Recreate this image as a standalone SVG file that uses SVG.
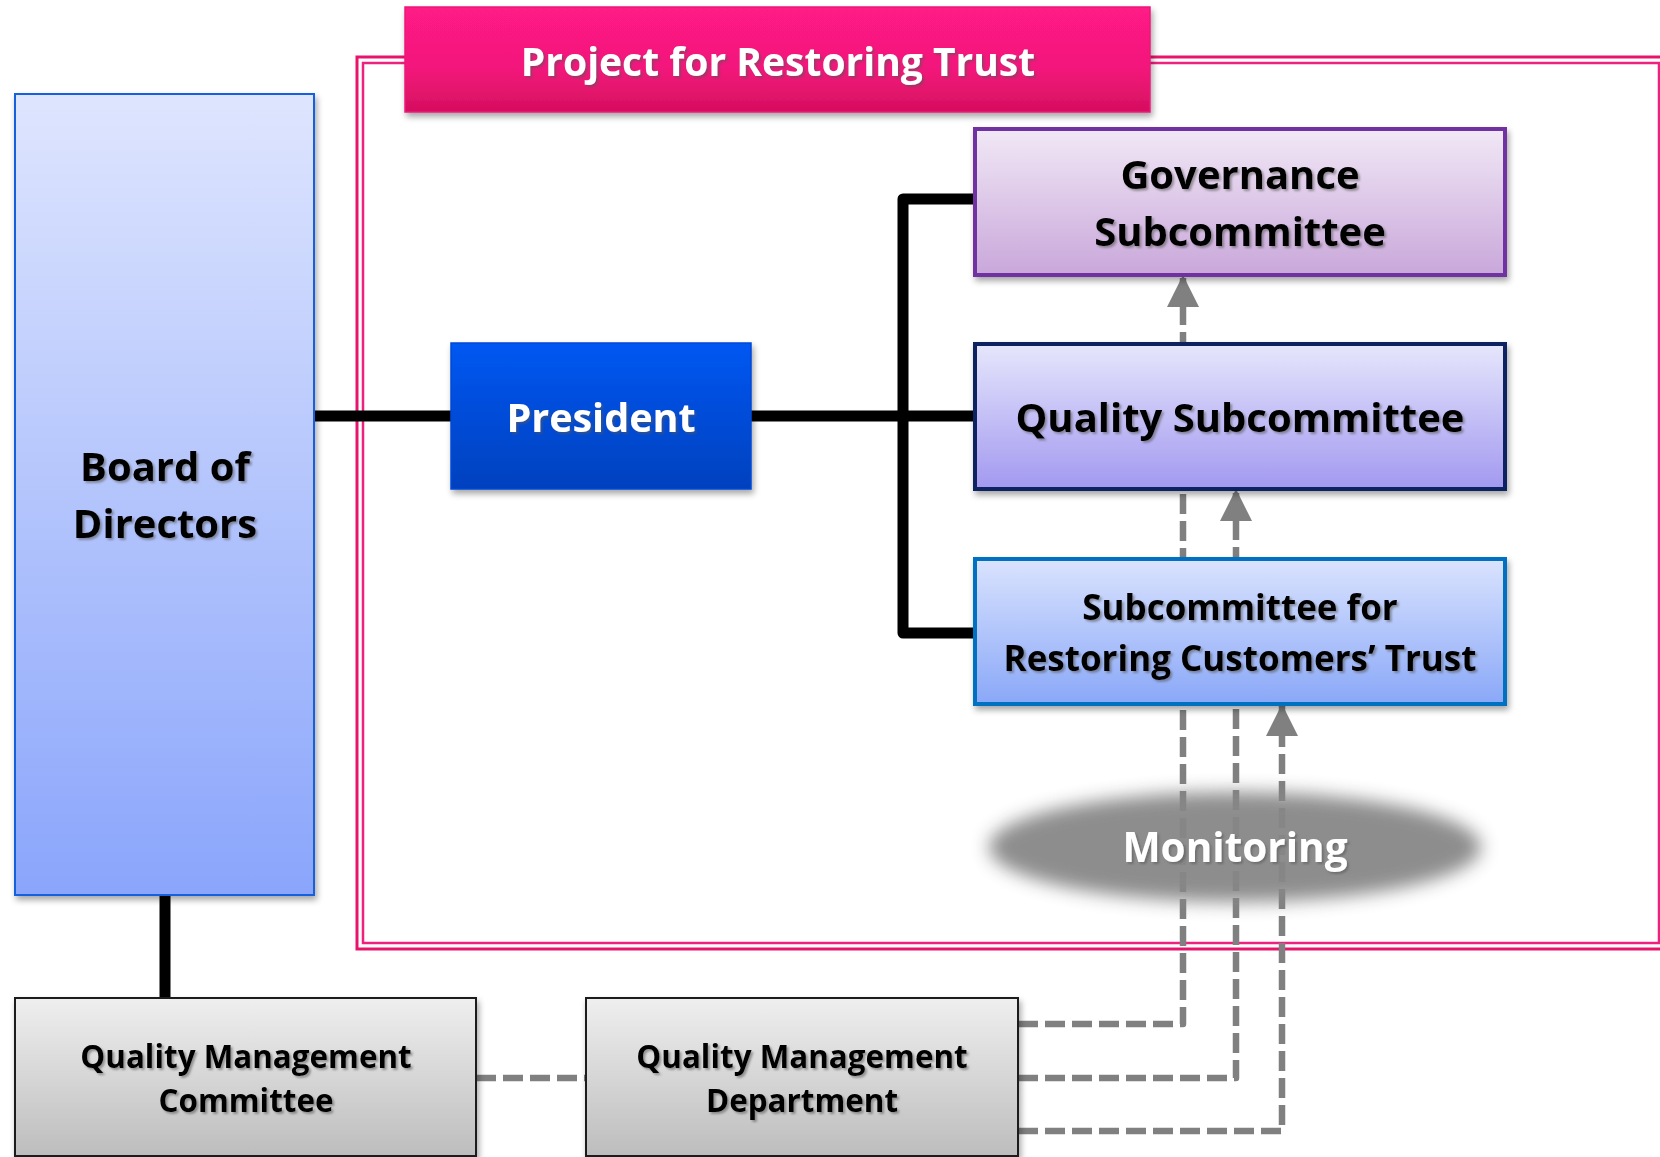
<svg xmlns="http://www.w3.org/2000/svg" width="1660" height="1157" viewBox="0 0 1660 1157">
<defs>
  <linearGradient id="gTitle" x1="0" y1="0" x2="0" y2="1"><stop offset="0" stop-color="#FF1A86"/><stop offset="0.6" stop-color="#F2187A"/><stop offset="1" stop-color="#D50F5F"/></linearGradient>
  <linearGradient id="gBoard" x1="0" y1="0" x2="0" y2="1"><stop offset="0" stop-color="#DEE5FE"/><stop offset="1" stop-color="#8AA5FB"/></linearGradient>
  <linearGradient id="gPres" x1="0" y1="0" x2="0" y2="1"><stop offset="0" stop-color="#0457F2"/><stop offset="1" stop-color="#0241BE"/></linearGradient>
  <linearGradient id="gGov" x1="0" y1="0" x2="0" y2="1"><stop offset="0" stop-color="#F1E8F6"/><stop offset="1" stop-color="#C9A7DA"/></linearGradient>
  <linearGradient id="gQS" x1="0" y1="0" x2="0" y2="1"><stop offset="0" stop-color="#E6E6FC"/><stop offset="1" stop-color="#A299F0"/></linearGradient>
  <linearGradient id="gRCT" x1="0" y1="0" x2="0" y2="1"><stop offset="0" stop-color="#DAE3FE"/><stop offset="1" stop-color="#8AA8F8"/></linearGradient>
  <linearGradient id="gGray" x1="0" y1="0" x2="0" y2="1"><stop offset="0" stop-color="#EFEFEF"/><stop offset="1" stop-color="#BDBDBD"/></linearGradient>
  <filter id="boxShadow" x="-10%" y="-10%" width="120%" height="130%"><feDropShadow dx="2" dy="4" stdDeviation="3" flood-color="#000" flood-opacity="0.35"/></filter>
  <filter id="txtShadow" x="-5%" y="-20%" width="110%" height="140%"><feDropShadow dx="2" dy="2" stdDeviation="1" flood-color="#555" flood-opacity="0.55"/></filter>
  <filter id="blurEll" x="-20%" y="-50%" width="140%" height="200%"><feGaussianBlur stdDeviation="9"/></filter>
  <marker id="arr" viewBox="0 0 32 32" refX="31" refY="16" markerWidth="32" markerHeight="32" markerUnits="userSpaceOnUse" orient="auto"><path d="M0,0 L32,16 L0,32 Z" fill="#808080"/></marker>
  <style>
    .t { font-family: "Open Sans", "Liberation Sans", sans-serif; font-weight: 700; text-anchor: middle; }
    .dark { fill: #000; filter: url(#txtShadow); }
    .light { fill: #fff; filter: url(#txtShadow); }
    .solid { fill: none; stroke: #000; stroke-width: 11; stroke-linejoin: round; }
    .dash { fill: none; stroke: #808080; stroke-width: 6.5; stroke-dasharray: 20 7; stroke-linejoin: round; }
  </style>
</defs>
<rect width="1660" height="1157" fill="#fff"/>

<g id="frame">
  <rect x="357" y="57" width="1310" height="892" fill="none" stroke="#E8146C" stroke-width="3"/>
  <rect x="363" y="63" width="1296" height="880" fill="none" stroke="#F0207E" stroke-width="2.5"/>
</g>

<g id="connectors">
  <path class="solid" d="M314 416 H451"/>
  <path class="solid" d="M165 895 V998"/>
  <path class="solid" d="M751 416 H975"/>
  <path class="solid" d="M975 199 H903 V633 H975"/>
  <path class="dash" d="M476 1078 H586"/>
  <path class="dash" d="M1018 1024 H1183 V276" marker-end="url(#arr)"/>
  <path class="dash" d="M1018 1078 H1236 V490" marker-end="url(#arr)"/>
  <path class="dash" d="M1018 1131 H1282 V705" marker-end="url(#arr)"/>
</g>

<g id="title">
  <rect x="405" y="7" width="745" height="105" fill="url(#gTitle)" stroke="#EC1A7A" stroke-width="1.5" filter="url(#boxShadow)"/>
  <text class="t light" x="778" y="76" font-size="39">Project for Restoring Trust</text>
</g>

<g id="board">
  <rect x="15" y="94" width="299" height="801" fill="url(#gBoard)" stroke="#1560E0" stroke-width="2" filter="url(#boxShadow)"/>
  <text class="t dark" x="165" y="481" font-size="40">Board of</text>
  <text class="t dark" x="165" y="538" font-size="40">Directors</text>
</g>

<g id="president">
  <rect x="451" y="343" width="300" height="146" fill="url(#gPres)" stroke="#0349D6" stroke-width="1.5" filter="url(#boxShadow)"/>
  <text class="t light" x="601" y="432" font-size="39.5">President</text>
</g>

<g id="governance">
  <rect x="975" y="129" width="530" height="146" fill="url(#gGov)" stroke="#7030A0" stroke-width="4" filter="url(#boxShadow)"/>
  <text class="t dark" x="1240" y="189" font-size="40">Governance</text>
  <text class="t dark" x="1240" y="246" font-size="40">Subcommittee</text>
</g>

<g id="quality-sub">
  <rect x="975" y="344" width="530" height="145" fill="url(#gQS)" stroke="#0D2360" stroke-width="4" filter="url(#boxShadow)"/>
  <text class="t dark" x="1240" y="432" font-size="40">Quality Subcommittee</text>
</g>

<g id="rct">
  <rect x="975" y="559" width="530" height="145" fill="url(#gRCT)" stroke="#0070C0" stroke-width="4" filter="url(#boxShadow)"/>
  <text class="t dark" x="1240" y="620" font-size="35">Subcommittee for</text>
  <text class="t dark" x="1240" y="671" font-size="35">Restoring Customers’ Trust</text>
</g>

<g id="monitoring">
  <ellipse cx="1235" cy="847" rx="246" ry="55" fill="#878787" opacity="0.95" filter="url(#blurEll)"/>
  <text class="t light" x="1235" y="862" font-size="40.5">Monitoring</text>
</g>

<g id="qmc">
  <rect x="15" y="998" width="461" height="158" fill="url(#gGray)" stroke="#1a1a1a" stroke-width="2" filter="url(#boxShadow)"/>
  <text class="t dark" x="246" y="1068" font-size="31.4">Quality Management</text>
  <text class="t dark" x="246" y="1112" font-size="31.4">Committee</text>
</g>

<g id="qmd">
  <rect x="586" y="998" width="432" height="158" fill="url(#gGray)" stroke="#1a1a1a" stroke-width="2" filter="url(#boxShadow)"/>
  <text class="t dark" x="802" y="1068" font-size="31.4">Quality Management</text>
  <text class="t dark" x="802" y="1112" font-size="31.4">Department</text>
</g>
</svg>
